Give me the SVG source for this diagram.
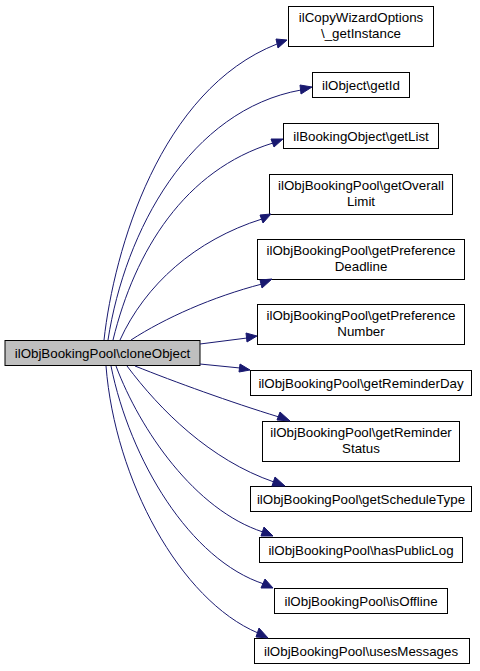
<svg xmlns="http://www.w3.org/2000/svg" width="480" height="671" viewBox="0 0 480 671">
<style>
.n rect{fill:#ffffff;stroke:#000000;stroke-width:1}
.m rect{fill:#bfbfbf;stroke:#000000;stroke-width:1}
text{font-family:"Liberation Sans",Arial,sans-serif;font-size:13.33px;fill:#000000;text-anchor:middle}
.e path{fill:none;stroke:#191970;stroke-width:1}
.e polygon{fill:#191970;stroke:#191970;stroke-width:1}
</style>
<rect width="480" height="671" fill="#ffffff"/>
<g id="node1" class="m"><rect x="5" y="340.5" width="195" height="25"/><text x="102.5" y="358">ilObjBookingPool\cloneObject</text></g>
<g id="node2" class="n"><rect x="288.5" y="6.5" width="145" height="40"/><text x="361" y="22">ilCopyWizardOptions</text><text x="361" y="38">\_getInstance</text></g>
<g id="node3" class="n"><rect x="312.5" y="72.5" width="97" height="25"/><text x="361" y="89.5">ilObject\getId</text></g>
<g id="node4" class="n"><rect x="283.5" y="123.5" width="155" height="25"/><text x="361" y="140.5">ilBookingObject\getList</text></g>
<g id="node5" class="n"><rect x="269.5" y="174.5" width="183" height="40"/><text x="361" y="190">ilObjBookingPool\getOverall</text><text x="361" y="206">Limit</text></g>
<g id="node6" class="n"><rect x="257.5" y="239.5" width="207" height="40"/><text x="361" y="255">ilObjBookingPool\getPreference</text><text x="361" y="271">Deadline</text></g>
<g id="node7" class="n"><rect x="257.5" y="304.5" width="207" height="40"/><text x="361" y="320">ilObjBookingPool\getPreference</text><text x="361" y="336">Number</text></g>
<g id="node8" class="n"><rect x="250.5" y="370.5" width="221" height="25"/><text x="361" y="387.5">ilObjBookingPool\getReminderDay</text></g>
<g id="node9" class="n"><rect x="262.5" y="421.5" width="197" height="40"/><text x="361" y="437">ilObjBookingPool\getReminder</text><text x="361" y="453">Status</text></g>
<g id="node10" class="n"><rect x="250.5" y="486.5" width="221" height="25"/><text x="361" y="503.5">ilObjBookingPool\getScheduleType</text></g>
<g id="node11" class="n"><rect x="259.5" y="537.5" width="203" height="25"/><text x="361" y="554.5">ilObjBookingPool\hasPublicLog</text></g>
<g id="node12" class="n"><rect x="274.5" y="588.5" width="173" height="25"/><text x="361" y="605.5">ilObjBookingPool\isOffline</text></g>
<g id="node13" class="n"><rect x="254.5" y="638.5" width="215" height="25"/><text x="361" y="655.5">ilObjBookingPool\usesMessages</text></g>
<g id="edges" class="e">
<path d="M104,340 C114,250 160,90 277,44"/><polygon points="276,39 287,40 278,48"/>
<path d="M108,340 C125,230 190,110 301,90"/><polygon points="300,85 312,87 301,94"/>
<path d="M113,340 C135,250 185,170 273,143"/><polygon points="271,139 283,139 274,147"/>
<path d="M120,340 C145,285 195,240 262,219"/><polygon points="260,215 271,214 263,223"/>
<path d="M131,340 C165,318 212,297 262,284"/><polygon points="260,280 272,279 262,288"/>
<path d="M200,344 L247,338"/><polygon points="246,333 257,336 247,342"/>
<path d="M200,364 L240,368"/><polygon points="240,364 250,370 239,372"/>
<path d="M135,366 C175,382 230,402 279,417"/><polygon points="280,412 290,421 277,420"/>
<path d="M127,366 C160,410 210,460 274,482"/><polygon points="275,477 285,486 272,486"/>
<path d="M116,366 C140,430 195,510 263,532"/><polygon points="264,527 273,536 261,536"/>
<path d="M111,366 C130,460 190,560 264,584"/><polygon points="265,579 273,588 261,588"/>
<path d="M106,366 C115,480 180,600 258,633"/><polygon points="259,628 268,638 256,637"/>
</g>
</svg>
